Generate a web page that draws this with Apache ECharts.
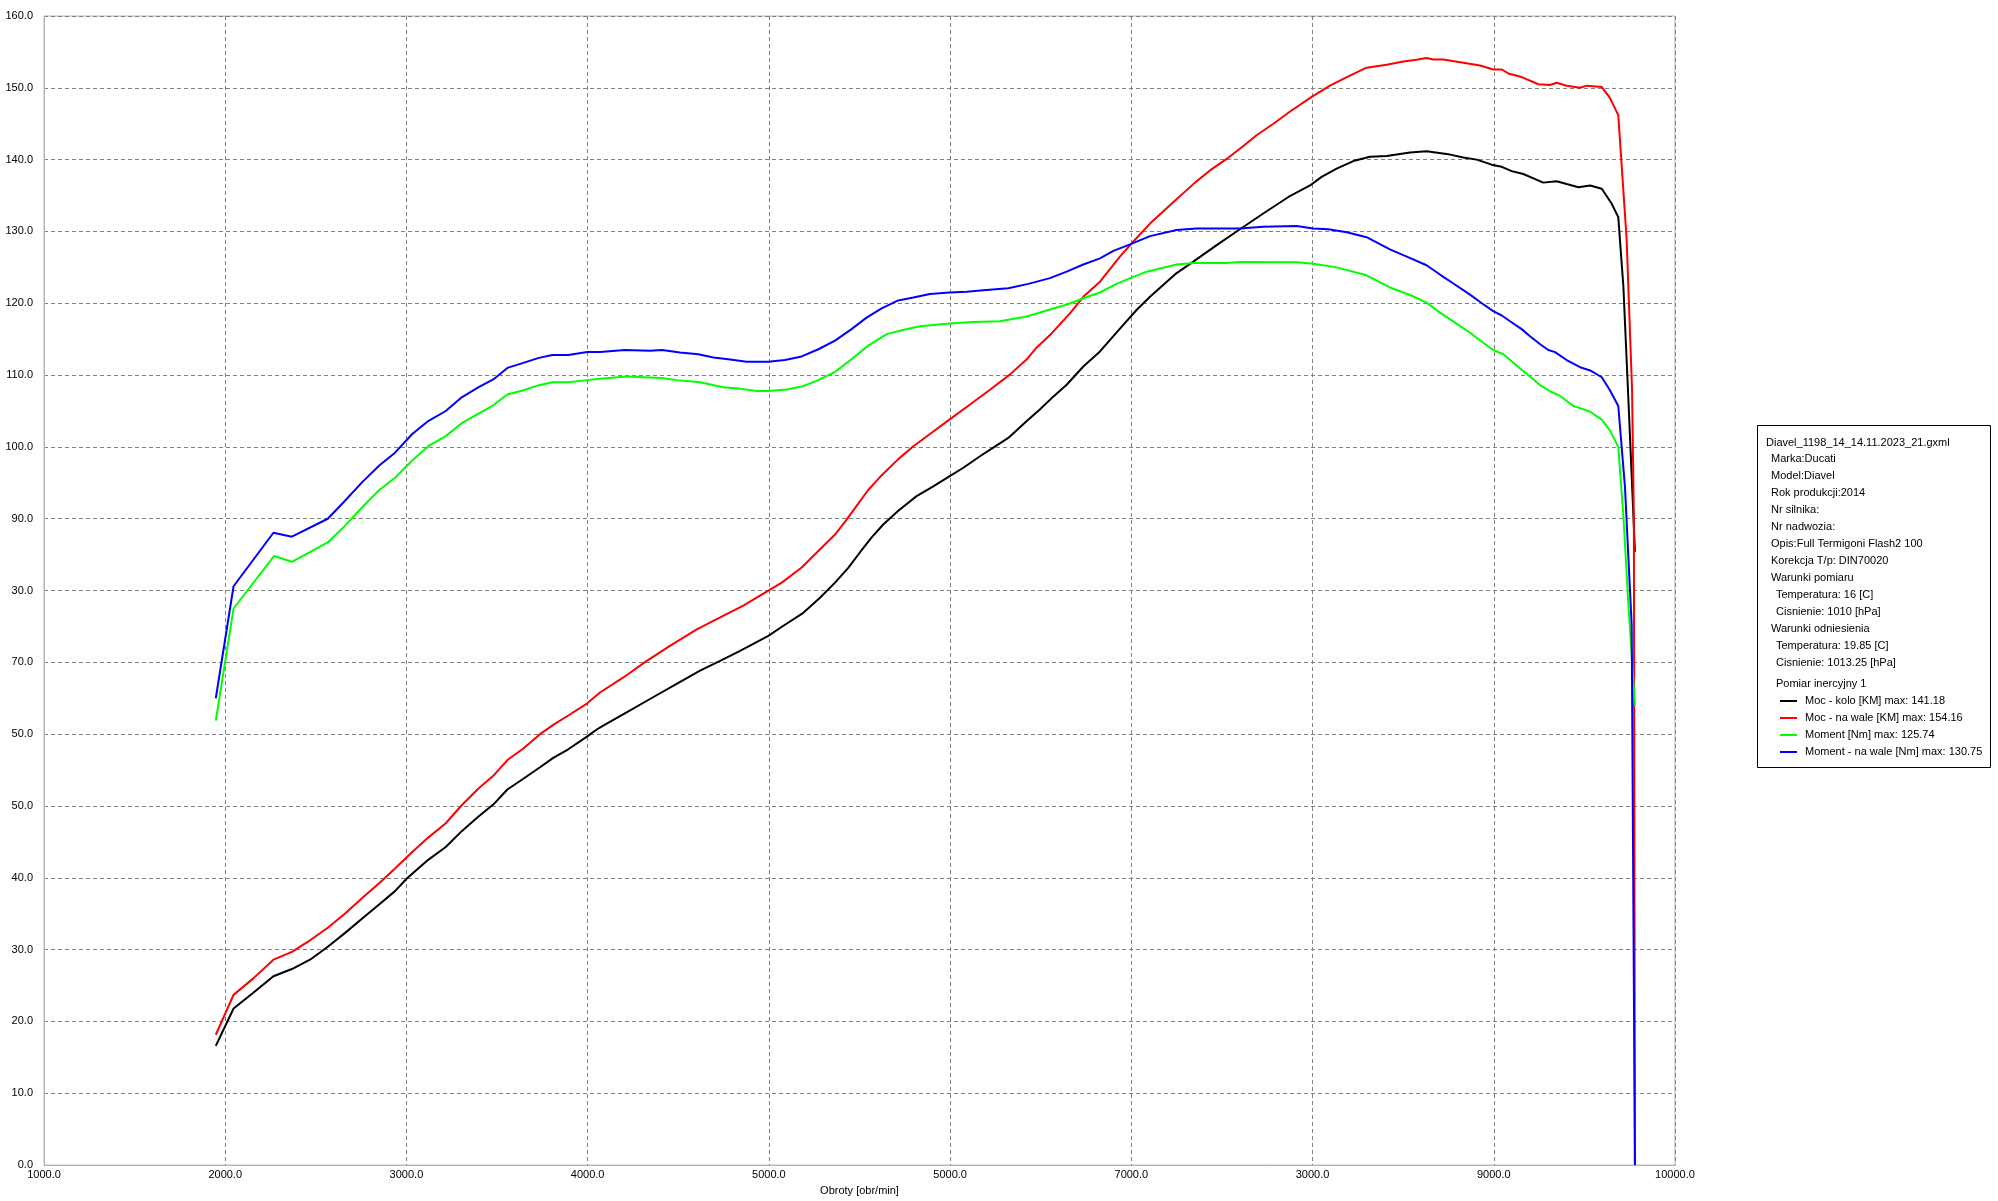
<!DOCTYPE html>
<html>
<head>
<meta charset="utf-8">
<script src="https://cdn.jsdelivr.net/npm/echarts@6/dist/echarts.min.js"></script>
<style>
html,body{margin:0;padding:0;background:#fff;}
#c{width:1998px;height:1201px;}
</style>
</head>
<body>
<div id="c"></div>
<script>
// ---- DATA ----
const seriesNames = [
  'Moc - kolo [KM] max: 141.18',
  'Moc - na wale [KM] max: 154.16',
  'Moment [Nm] max: 125.74',
  'Moment - na wale [Nm] max: 130.75'
];
const xTickLabels = ['1000.0','2000.0','3000.0','4000.0','5000.0','5000.0','7000.0','3000.0','9000.0','10000.0'];
const yTickLabels = ['0.0','10.0','20.0','30.0','40.0','50.0','50.0','70.0','30.0','90.0','100.0','110.0','120.0','130.0','140.0','150.0','160.0'];
const xAxisTitle = 'Obroty [obr/min]';
const infoLines = [
  'Diavel_1198_14_14.11.2023_21.gxml',
  'Marka:Ducati',
  'Model:Diavel',
  'Rok produkcji:2014',
  'Nr silnika:',
  'Nr nadwozia:',
  'Opis:Full Termigoni Flash2 100',
  'Korekcja T/p: DIN70020',
  'Warunki pomiaru',
  'Temperatura: 16 [C]',
  'Cisnienie: 1010 [hPa]',
  'Warunki odniesienia',
  'Temperatura: 19.85 [C]',
  'Cisnienie: 1013.25 [hPa]',
  'Pomiar inercyjny 1'
];
const mocKolo = [
  [1948,16.6],[2046,21.8],[2155,24.0],[2266,26.3],[2368,27.3],[2468,28.6],[2566,30.4],[2660,32.3],[2756,34.35],[2854,36.4],
  [2937,38.15],[3002,39.9],[3120,42.5],[3217,44.3],[3305,46.5],[3396,48.5],[3479,50.2],[3557,52.3],[3645,53.8],[3737,55.4],
  [3810,56.7],[3893,57.9],[3998,59.7],[4050,60.65],[4086,61.2],[4215,63.05],[4344,64.9],[4491,67.0],[4620,68.85],[4731,70.2],
  [4841,71.6],[4997,73.7],[5080,75.1],[5190,76.9],[5282,79.0],[5365,81.1],[5439,83.2],[5502,85.3],[5567,87.4],[5631,89.2],
  [5714,91.1],[5815,93.15],[5907,94.5],[5996,95.9],[6073,97.1],[6165,98.7],[6238,99.9],[6321,101.25],[6423,103.6],[6495,105.2],
  [6569,107.0],[6643,108.65],[6735,111.2],[6827,113.3],[6947,116.75],[7030,119.1],[7103,120.9],[7250,124.2],[7342,125.8],[7471,128.1],
  [7581,130.0],[7728,132.5],[7867,134.8],[7986,136.4],[8050,137.6],[8133,138.75],[8225,139.8],[8317,140.4],[8409,140.5],[8538,141.0],
  [8629,141.18],[8759,140.7],[8832,140.3],[8906,140.0],[8988,139.3],[9044,139.0],[9099,138.4],[9163,138.0],[9219,137.4],[9273,136.8],
  [9347,137.0],[9402,136.6],[9467,136.15],[9532,136.4],[9596,135.95],[9650,133.9],[9687,132.0],[9715,122.4],[9742,107.1],[9779,85.4]
];
const mocWal = [
  [1948,18.15],[2046,23.7],[2155,26.0],[2266,28.6],[2368,29.7],[2468,31.3],[2566,33.05],[2660,35.0],[2756,37.2],[2854,39.35],
  [2937,41.3],[3032,43.6],[3120,45.6],[3217,47.6],[3305,50.1],[3396,52.4],[3479,54.2],[3557,56.4],[3645,58.0],[3737,60.0],
  [3810,61.3],[3893,62.6],[3998,64.3],[4068,65.8],[4197,67.9],[4326,70.2],[4454,72.3],[4602,74.6],[4731,76.25],[4859,77.9],
  [4997,80.0],[5071,81.1],[5181,83.2],[5273,85.5],[5365,87.8],[5430,89.9],[5484,91.8],[5548,94.0],[5613,95.8],[5714,98.3],
  [5797,100.1],[5889,101.8],[5996,103.8],[6110,105.9],[6220,107.95],[6331,110.1],[6423,112.2],[6478,113.85],[6560,115.8],[6661,118.6],
  [6735,120.9],[6827,123.0],[6937,126.5],[7011,128.6],[7103,131.1],[7213,133.65],[7351,136.8],[7434,138.5],[7526,140.1],[7618,141.9],
  [7691,143.4],[7784,145.0],[7876,146.7],[7993,148.7],[8096,150.3],[8189,151.5],[8298,152.8],[8409,153.2],[8501,153.65],[8574,153.9],
  [8629,154.16],[8666,153.95],[8721,153.95],[8832,153.5],[8924,153.1],[8997,152.55],[9044,152.55],[9080,152.0],[9154,151.5],[9246,150.5],
  [9310,150.4],[9347,150.7],[9402,150.3],[9476,150.0],[9513,150.3],[9596,150.1],[9641,148.6],[9687,146.2],[9733,129.0],[9763,108.0],
  [9773,90.0],[9779,0.0]
];
const moment = [
  [1948,61.9],[2046,77.5],[2269,84.8],[2368,84.0],[2566,86.7],[2660,89.0],[2756,91.6],[2850,94.0],[2937,95.7],[3032,98.1],
  [3120,100.1],[3217,101.5],[3305,103.3],[3396,104.6],[3479,105.8],[3557,107.3],[3645,107.9],[3731,108.6],[3805,109.0],[3893,109.0],
  [3998,109.3],[4068,109.5],[4215,109.8],[4408,109.6],[4491,109.3],[4620,109.0],[4748,108.3],[4831,108.15],[4933,107.8],[4997,107.8],
  [5098,108.0],[5181,108.4],[5273,109.3],[5365,110.45],[5456,112.2],[5548,114.1],[5650,115.7],[5733,116.25],[5834,116.8],[5996,117.2],
  [6128,117.4],[6275,117.5],[6423,118.15],[6514,118.85],[6588,119.4],[6643,119.8],[6735,120.7],[6827,121.5],[6910,122.6],[6993,123.5],
  [7085,124.4],[7250,125.4],[7342,125.6],[7526,125.6],[7599,125.74],[7912,125.7],[8004,125.5],[8133,125.0],[8298,123.9],[8427,122.2],
  [8538,121.15],[8629,120.1],[8703,118.7],[8786,117.3],[8869,115.9],[8934,114.65],[8997,113.5],[9053,112.9],[9127,111.3],[9200,109.8],
  [9256,108.6],[9310,107.75],[9366,107.1],[9439,105.7],[9476,105.4],[9532,104.9],[9596,103.8],[9641,102.3],[9687,100.0],[9715,90.5],
  [9742,78.4],[9779,64.0]
];
const momentWal = [
  [1948,65.0],[2046,80.6],[2266,88.05],[2368,87.5],[2566,90.0],[2657,92.4],[2756,95.1],[2850,97.4],[2937,99.2],[3032,101.8],
  [3120,103.6],[3217,105.0],[3305,106.9],[3396,108.3],[3479,109.4],[3557,111.0],[3645,111.7],[3731,112.4],[3805,112.8],[3893,112.8],
  [3998,113.2],[4068,113.2],[4206,113.5],[4344,113.4],[4411,113.5],[4509,113.15],[4611,112.9],[4694,112.45],[4776,112.2],[4877,111.85],
  [4997,111.85],[5088,112.1],[5181,112.6],[5273,113.6],[5365,114.8],[5456,116.4],[5539,118.0],[5622,119.3],[5714,120.4],[5797,120.8],
  [5889,121.3],[5996,121.5],[6092,121.6],[6183,121.8],[6321,122.1],[6432,122.7],[6551,123.5],[6643,124.4],[6735,125.4],[6827,126.25],
  [6901,127.3],[6993,128.2],[7103,129.35],[7250,130.2],[7360,130.4],[7599,130.4],[7728,130.65],[7912,130.75],[8004,130.4],[8087,130.3],
  [8189,129.9],[8298,129.2],[8427,127.5],[8520,126.5],[8629,125.3],[8703,124.0],[8777,122.75],[8869,121.2],[8934,120.0],[8997,118.9],
  [9044,118.3],[9090,117.5],[9154,116.4],[9200,115.4],[9256,114.3],[9301,113.5],[9338,113.2],[9402,112.1],[9476,111.1],[9532,110.65],
  [9596,109.7],[9641,107.9],[9687,105.7],[9724,94.4],[9761,75.2],[9779,0.0]
];
const seriesData = [mocKolo, mocWal, moment, momentWal];
const seriesColors = ['#000000','#ff0000','#00ff00','#0000ff'];

// ---- LAYOUT ----
const FONT = 'Liberation Sans';
const infoIndent = [0,1,1,1,1,1,1,1,1,2,2,1,2,2,2];
const infoY = [442.7,459.3,476,492.7,510,527.3,544,561.3,578.3,594.7,612,629.3,646,663.3,684.3];
const graphics = [{
  type:'rect', shape:{x:1757.5,y:425.5,width:233,height:342},
  style:{fill:'#fff',stroke:'#000',lineWidth:1}, z:0
}];
infoLines.forEach((t,i)=>{
  graphics.push({type:'text', x:1766+infoIndent[i]*5, y:infoY[i],
    style:{text:t, fill:'#000', font:'11px "'+FONT+'"', textVerticalAlign:'middle'}, z:1});
});

const chart = echarts.init(document.getElementById('c'), null, {renderer:'canvas'});
chart.setOption({
  animation:false,
  backgroundColor:'#fff',
  textStyle:{fontFamily:FONT},
  grid:{left:44, top:16, width:1631, height:1153, show:true, borderColor:'#b4b4b4', borderWidth:1, backgroundColor:'transparent'},
  xAxis:{
    type:'value', min:1000, max:10000, interval:1000,
    name:xAxisTitle, nameLocation:'middle', nameGap:16,
    nameTextStyle:{color:'#000', fontSize:11, fontFamily:FONT},
    axisLine:{show:true, lineStyle:{color:'#b4b4b4'}},
    axisTick:{show:false},
    axisLabel:{color:'#000', fontSize:11, fontFamily:FONT, margin:4,
      formatter:(v)=>xTickLabels[Math.round((v-1000)/1000)]},
    splitLine:{show:true, lineStyle:{color:'#808080', type:[4,3], width:1}}
  },
  yAxis:{
    type:'value', min:0, max:160, interval:10,
    axisLine:{show:true, lineStyle:{color:'#b4b4b4'}},
    axisTick:{show:false},
    axisLabel:{color:'#000', fontSize:11, fontFamily:FONT, margin:11,
      formatter:(v)=>yTickLabels[Math.round(v/10)]},
    splitLine:{show:true, lineStyle:{color:'#808080', type:[4,3], width:1}}
  },
  legend:{
    show:true, orient:'vertical', left:1780, top:695, padding:0,
    icon:'rect', itemWidth:17, itemHeight:2, itemGap:5,
    textStyle:{color:'#000', fontSize:11, fontFamily:FONT, lineHeight:12, padding:[0,0,0,3]},
    data:seriesNames, selectedMode:false
  },
  graphic:graphics,
  series:seriesData.map((d,i)=>({
    name:seriesNames[i], type:'line', data:d, showSymbol:false, symbol:'none',
    lineStyle:{color:seriesColors[i], width:2}, itemStyle:{color:seriesColors[i]},
    z:2+i
  }))
});
</script>
</body>
</html>
